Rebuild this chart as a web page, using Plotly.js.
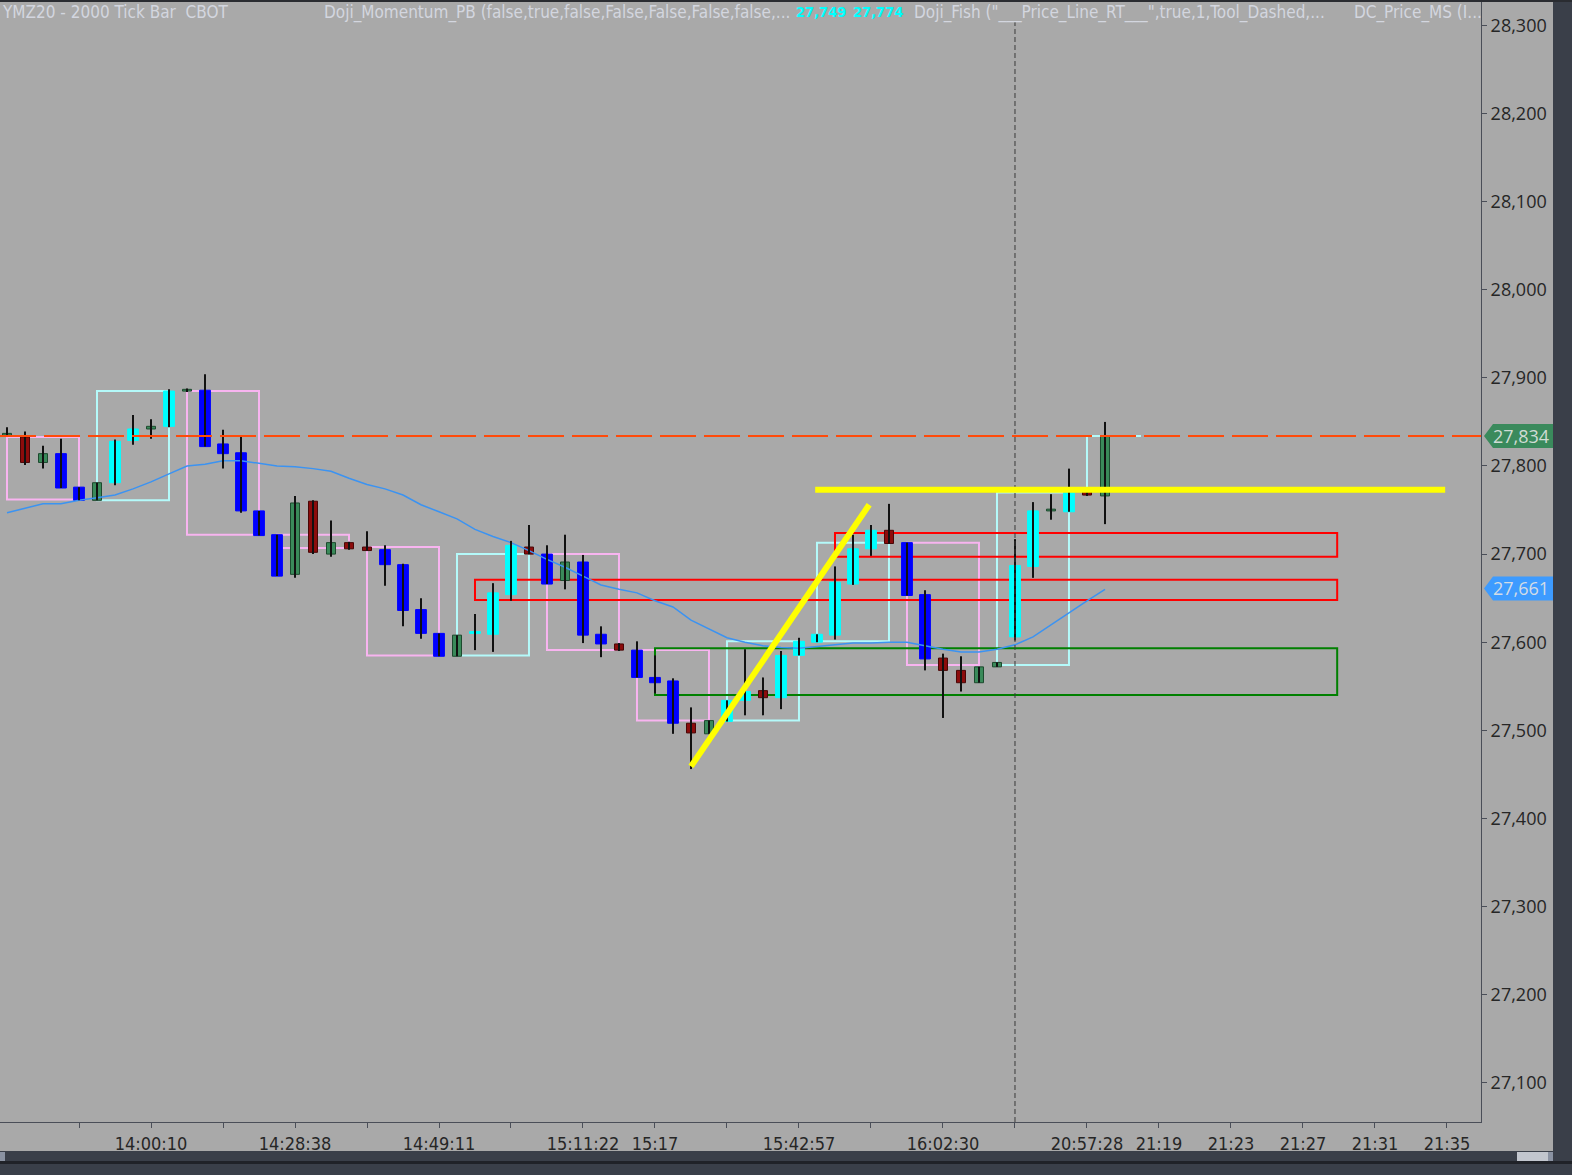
<!DOCTYPE html>
<html><head><meta charset="utf-8">
<script src="https://cdn.plot.ly/plotly-3.0.1.min.js"></script>
<style>html,body{margin:0;padding:0;background:#3a3f49;overflow:hidden}#chart{width:1572px;height:1175px}</style>
</head><body><div id="chart"></div>
<script>
// ---------------- data ----------------
const barOpen  = [27835,27833,27804,27814,27776,27761,27781,27829,27842,27845,27885,27886,27825,27815,27749,27722,27677,27760,27700,27713,27708,27705,27688,27637,27610,27584,27610,27609,27654,27708,27700,27670,27691,27609,27598,27591,27560,27556,27508,27496,27510,27534,27545,27537,27585,27600,27608,27666,27706,27727,27713,27654,27582,27568,27554,27572,27606,27686,27749,27748,27774,27766];
const barHigh  = [27844,27839,27823,27831,27776,27781,27830,27858,27853,27887,27888,27904,27841,27833,27749,27722,27766,27761,27738,27714,27726,27710,27689,27650,27610,27608,27632,27667,27715,27733,27710,27722,27699,27618,27599,27601,27585,27559,27526,27511,27534,27592,27560,27590,27605,27609,27686,27722,27733,27757,27713,27659,27587,27584,27572,27577,27717,27759,27768,27797,27775,27850];
const barLow   = [27833,27801,27797,27775,27761,27761,27778,27824,27831,27844,27884,27822,27797,27747,27721,27675,27673,27700,27697,27705,27704,27664,27618,27604,27584,27584,27591,27589,27647,27700,27666,27660,27599,27583,27590,27560,27542,27496,27456,27496,27510,27517,27517,27524,27585,27600,27603,27665,27698,27712,27653,27568,27514,27544,27554,27572,27602,27673,27739,27748,27766,27734];
const barClose = [27836,27804,27814,27775,27761,27781,27828,27842,27845,27885,27886,27822,27814,27749,27721,27675,27758,27702,27713,27706,27704,27688,27636,27610,27584,27608,27612,27656,27710,27700,27666,27691,27608,27598,27591,27560,27554,27508,27497,27511,27534,27544,27537,27585,27601,27609,27668,27706,27727,27712,27653,27581,27568,27554,27572,27577,27687,27749,27750,27772,27767,27834];
// 1 = momentum bar (blue / cyan), 0 = normal bar (red / green)
const momentum = [0,0,0,1,1,0,1,1,0,1,0,1,1,1,1,1,0,0,0,0,0,1,1,1,1,0,1,1,1,0,1,0,1,1,0,1,1,1,0,0,1,1,0,1,1,1,1,1,1,0,1,1,0,0,0,0,1,1,0,1,0,0];
const movingAvg = [27747,27752,27757,27757,27761,27764,27767,27774,27782,27791,27800,27802,27806,27806,27803,27800,27799,27797,27794,27786,27779,27774,27767,27756,27748,27740,27728,27720,27713,27704,27694,27685,27675,27665,27660,27656,27647,27640,27625,27615,27605,27600,27596,27594,27593,27595,27597,27599,27599,27600,27600,27596,27592,27589,27589,27592,27597,27606,27620,27634,27647,27660];

// Doji boxes (bar index from/to, price top/bottom, direction)
const boxFrom   = [0,5,10,15,20,25,30,35,40,45,50,55];
const boxTo     = [4,9,14,19,24,29,34,39,44,49,54,59];
const boxTop    = [27833,27885,27885,27722,27708,27700,27700,27591,27601,27713,27713,27770];
const boxBottom = [27762,27761,27722,27707,27585,27585,27591,27511,27511,27601,27574,27574];
const boxBull   = [0,1,0,0,0,1,0,0,1,1,0,1];
// open (forming) box
const openBoxFrom = 60, openBoxTo = 63, openBoxTop = 27834, openBoxBottom = 27772;

// Support / resistance zones
const zoneFrom   = [26, 46, 36];
const zoneTo     = [73.9, 73.9, 73.9];
const zoneTop    = [27671, 27724, 27593];
const zoneBottom = [27648, 27697, 27540];
const zoneKind   = ['res', 'res', 'sup'];

// Drawn lines
const lastPrice = 27834;
const maLast = 27661;
const yellowLevel = 27773, yellowFrom = 44.9, yellowTo = 79.9;
const trendFrom = [38.0, 27459], trendTo = [47.9, 27756];
const cursorBar = 56;

// axes
const priceTicks = [27100,27200,27300,27400,27500,27600,27700,27800,27900,28000,28100,28200,28300];
const tickBars   = [4,8,12,16,20,24,28,32,36,40,44,48,52,56,60,64,68,72,76,80];
const tickLabels = ['','14:00:10','','14:28:38','','14:49:11','','15:11:22','15:17','','15:42:57','','16:02:30','','20:57:28','21:19','21:23','21:27','21:31','21:35'];

const headerTitle = 'YMZ20 - 2000 Tick Bar\u00a0\u00a0CBOT';
const headerInd1 = 'Doji_Momentum_PB (false,true,false,False,False,False,false,...';
const headerVals = ['27,749', '27,774'];
const headerInd2 = 'Doji_Fish ("___Price_Line_RT___",true,1,Tool_Dashed,...';
const headerInd3 = 'DC_Price_MS (I...';

// ---------------- layout helpers ----------------
const W = 1572, H = 1175, ML = 0, MR = 91, MT = 0, MB = 53;
const PW = W - ML - MR, PH = H - MT - MB;
const yMin = 27055.4, yMax = 28328.9;
const xMin = -0.389, xMax = 81.89;
const px = x => (x - ML) / PW;
const py = y => 1 - (y - MT) / PH;
const pp = p => (p - yMin) / (yMax - yMin);

const idx = barOpen.map((_, i) => i);
const isUp = idx.map(i => barClose[i] >= barOpen[i]);
const fillCol = idx.map(i => isUp[i] ? (momentum[i] ? '#00ffff' : '#3a8a5a') : (momentum[i] ? '#0000ff' : '#8c0c0c'));
const edgeCol = idx.map(i => isUp[i] ? (momentum[i] ? '#00ffff' : '#1d4a2e') : (momentum[i] ? '#0000ff' : '#4a0606'));
const bodyW = idx.map(i => momentum[i] ? 0.6 : 0.5);

const wx = [], wy = [];
idx.forEach(i => { wx.push(i, i, null); wy.push(barHigh[i], barLow[i], null); });

const traces = [
  {type: 'scatter', mode: 'lines', x: idx, y: movingAvg, line: {color: '#3b93f2', width: 1.5}, hoverinfo: 'skip'},
  {type: 'scatter', mode: 'lines', x: wx, y: wy, line: {color: '#111111', width: 2}, hoverinfo: 'skip'},
  {type: 'bar', x: idx, base: idx.map(i => Math.min(barOpen[i], barClose[i])),
   y: idx.map(i => Math.max(Math.abs(barClose[i] - barOpen[i]), 2)),
   width: bodyW, marker: {color: fillCol, line: {color: edgeCol, width: 1}}, hoverinfo: 'skip'}
];

const shapes = [];
// doji boxes
boxFrom.forEach((f, i) => shapes.push({type: 'rect', layer: 'below', xref: 'x', yref: 'y',
  x0: f, x1: boxTo[i], y0: boxBottom[i], y1: boxTop[i],
  line: {color: boxBull[i] ? '#b4fafa' : '#f8b4f0', width: 2}}));
shapes.push({type: 'path', layer: 'below', xref: 'x', yref: 'y',
  path: `M${openBoxFrom},${openBoxBottom} L${openBoxFrom},${openBoxTop} L${openBoxTo},${openBoxTop}`,
  line: {color: '#b4fafa', width: 2}});
// zones
zoneFrom.forEach((f, i) => shapes.push({type: 'rect', layer: 'below', xref: 'x', yref: 'y',
  x0: f, x1: zoneTo[i], y0: zoneBottom[i], y1: zoneTop[i],
  line: {color: zoneKind[i] === 'res' ? '#ff0000' : '#008000', width: 2}}));
// cursor dashed vertical
shapes.push({type: 'line', layer: 'above', xref: 'x', yref: 'paper', x0: cursorBar, x1: cursorBar, y0: 0, y1: py(22),
  line: {color: '#3a3a3a', width: 1, dash: '5px,3px'}});
// last price dashed line
shapes.push({type: 'line', layer: 'above', xref: 'x', yref: 'y', x0: xMin, x1: xMax, y0: lastPrice, y1: lastPrice,
  line: {color: '#ff4a0a', width: 2, dash: '36px,8px'}});
// yellow lines
shapes.push({type: 'line', layer: 'above', xref: 'x', yref: 'y', x0: yellowFrom, x1: yellowTo, y0: yellowLevel, y1: yellowLevel,
  line: {color: '#ffff00', width: 6}});
shapes.push({type: 'line', layer: 'above', xref: 'x', yref: 'y', x0: trendFrom[0], x1: trendTo[0], y0: trendFrom[1], y1: trendTo[1],
  line: {color: '#ffff00', width: 6}});

// price labels on axis
function priceTag(p, col) {
  const h = 12 / PH;
  const c = pp(p);
  shapes.push({type: 'path', layer: 'above', xref: 'paper', yref: 'paper',
    path: `M${px(1484)},${c} L${px(1493)},${c + h} L${px(1553)},${c + h} L${px(1553)},${c - h} L${px(1493)},${c - h} Z`,
    fillcolor: col, line: {width: 0}});
}
priceTag(lastPrice, '#3a8a5c');
priceTag(maLast, '#3d9bff');

// frame decorations
const dark = '#3a3f49';
shapes.push({type: 'rect', layer: 'above', xref: 'paper', yref: 'paper', x0: px(1553), x1: px(1580), y0: py(1180), y1: py(0), fillcolor: dark, line: {width: 0}});
shapes.push({type: 'rect', layer: 'above', xref: 'paper', yref: 'paper', x0: px(-5), x1: px(1580), y0: py(1180), y1: py(1151), fillcolor: dark, line: {width: 0}});
shapes.push({type: 'rect', layer: 'above', xref: 'paper', yref: 'paper', x0: px(-5), x1: px(1580), y0: py(1164), y1: py(1161), fillcolor: '#202228', line: {width: 0}});
shapes.push({type: 'rect', layer: 'above', xref: 'paper', yref: 'paper', x0: px(-5), x1: px(1580), y0: py(2), y1: py(-3), fillcolor: '#2a2c31', line: {width: 0}});
shapes.push({type: 'rect', layer: 'above', xref: 'paper', yref: 'paper', x0: px(1517), x1: px(1548), y0: py(1161), y1: py(1152), fillcolor: '#c2c6ce', line: {width: 0}});
shapes.push({type: 'rect', layer: 'above', xref: 'paper', yref: 'paper', x0: px(1548), x1: px(1553), y0: py(1161), y1: py(1152), fillcolor: '#8a92a2', line: {width: 0}});
shapes.push({type: 'rect', layer: 'above', xref: 'paper', yref: 'paper', x0: px(0), x1: px(5), y0: py(1161), y1: py(1152), fillcolor: '#8a92a2', line: {width: 0}});

const hdrFont = {family: 'DejaVu Sans Condensed, Liberation Sans Narrow, sans-serif', size: 17, color: '#d3d6df'};
const valFont = {family: 'DejaVu Sans Condensed, Liberation Sans Narrow, sans-serif', size: 14.5, color: '#00ffff'};
const annotations = [
  {xref: 'paper', yref: 'paper', x: px(0), y: py(12), xanchor: 'left', yanchor: 'middle', text: headerTitle, showarrow: false, font: hdrFont},
  {xref: 'paper', yref: 'paper', x: px(322), y: py(12), xanchor: 'left', yanchor: 'middle', text: headerInd1, showarrow: false, font: hdrFont},
  {xref: 'paper', yref: 'paper', x: px(821), y: py(12), xanchor: 'center', yanchor: 'middle', text: '<b>' + headerVals[0] + '</b>', showarrow: false, font: valFont},
  {xref: 'paper', yref: 'paper', x: px(878), y: py(12), xanchor: 'center', yanchor: 'middle', text: '<b>' + headerVals[1] + '</b>', showarrow: false, font: valFont},
  {xref: 'paper', yref: 'paper', x: px(912), y: py(12), xanchor: 'left', yanchor: 'middle', text: headerInd2, showarrow: false, font: hdrFont},
  {xref: 'paper', yref: 'paper', x: px(1352), y: py(12), xanchor: 'left', yanchor: 'middle', text: headerInd3, showarrow: false, font: hdrFont},
  {xref: 'paper', yref: 'paper', x: px(1521), y: pp(lastPrice), xanchor: 'center', yanchor: 'middle', text: lastPrice.toLocaleString('en-US'), showarrow: false, font: {family: 'Open Sans, sans-serif', size: 18, color: '#cfdcd4'}},
  {xref: 'paper', yref: 'paper', x: px(1521), y: pp(maLast), xanchor: 'center', yanchor: 'middle', text: maLast.toLocaleString('en-US'), showarrow: false, font: {family: 'Open Sans, sans-serif', size: 18, color: '#d3dce6'}}
];

const layout = {
  width: W, height: H, margin: {l: ML, r: MR, t: MT, b: MB, pad: 0},
  paper_bgcolor: '#a9a9a9', plot_bgcolor: '#a9a9a9', showlegend: false, hovermode: false, bargap: 0,
  xaxis: {range: [xMin, xMax], tickvals: tickBars, ticktext: tickLabels, showgrid: false, zeroline: false,
    showline: true, linecolor: '#4a4e58', linewidth: 1, ticks: 'outside', ticklen: 5, tickcolor: '#4a4e58',
    tickfont: {family: 'DejaVu Sans Condensed, Liberation Sans Narrow, sans-serif', size: 18, color: '#262626'}, fixedrange: true},
  yaxis: {range: [yMin, yMax], side: 'right', tickvals: priceTicks, ticktext: priceTicks.map(v => v.toLocaleString('en-US')),
    showgrid: false, zeroline: false, showline: true, linecolor: '#4a4e58', linewidth: 1, ticks: 'outside', ticklen: 5,
    tickcolor: '#4a4e58', tickfont: {family: 'Open Sans, sans-serif', size: 18, color: '#262626'}, fixedrange: true},
  shapes: shapes, annotations: annotations
};

Plotly.newPlot('chart', traces, layout, {displayModeBar: false, staticPlot: true});
</script></body></html>
